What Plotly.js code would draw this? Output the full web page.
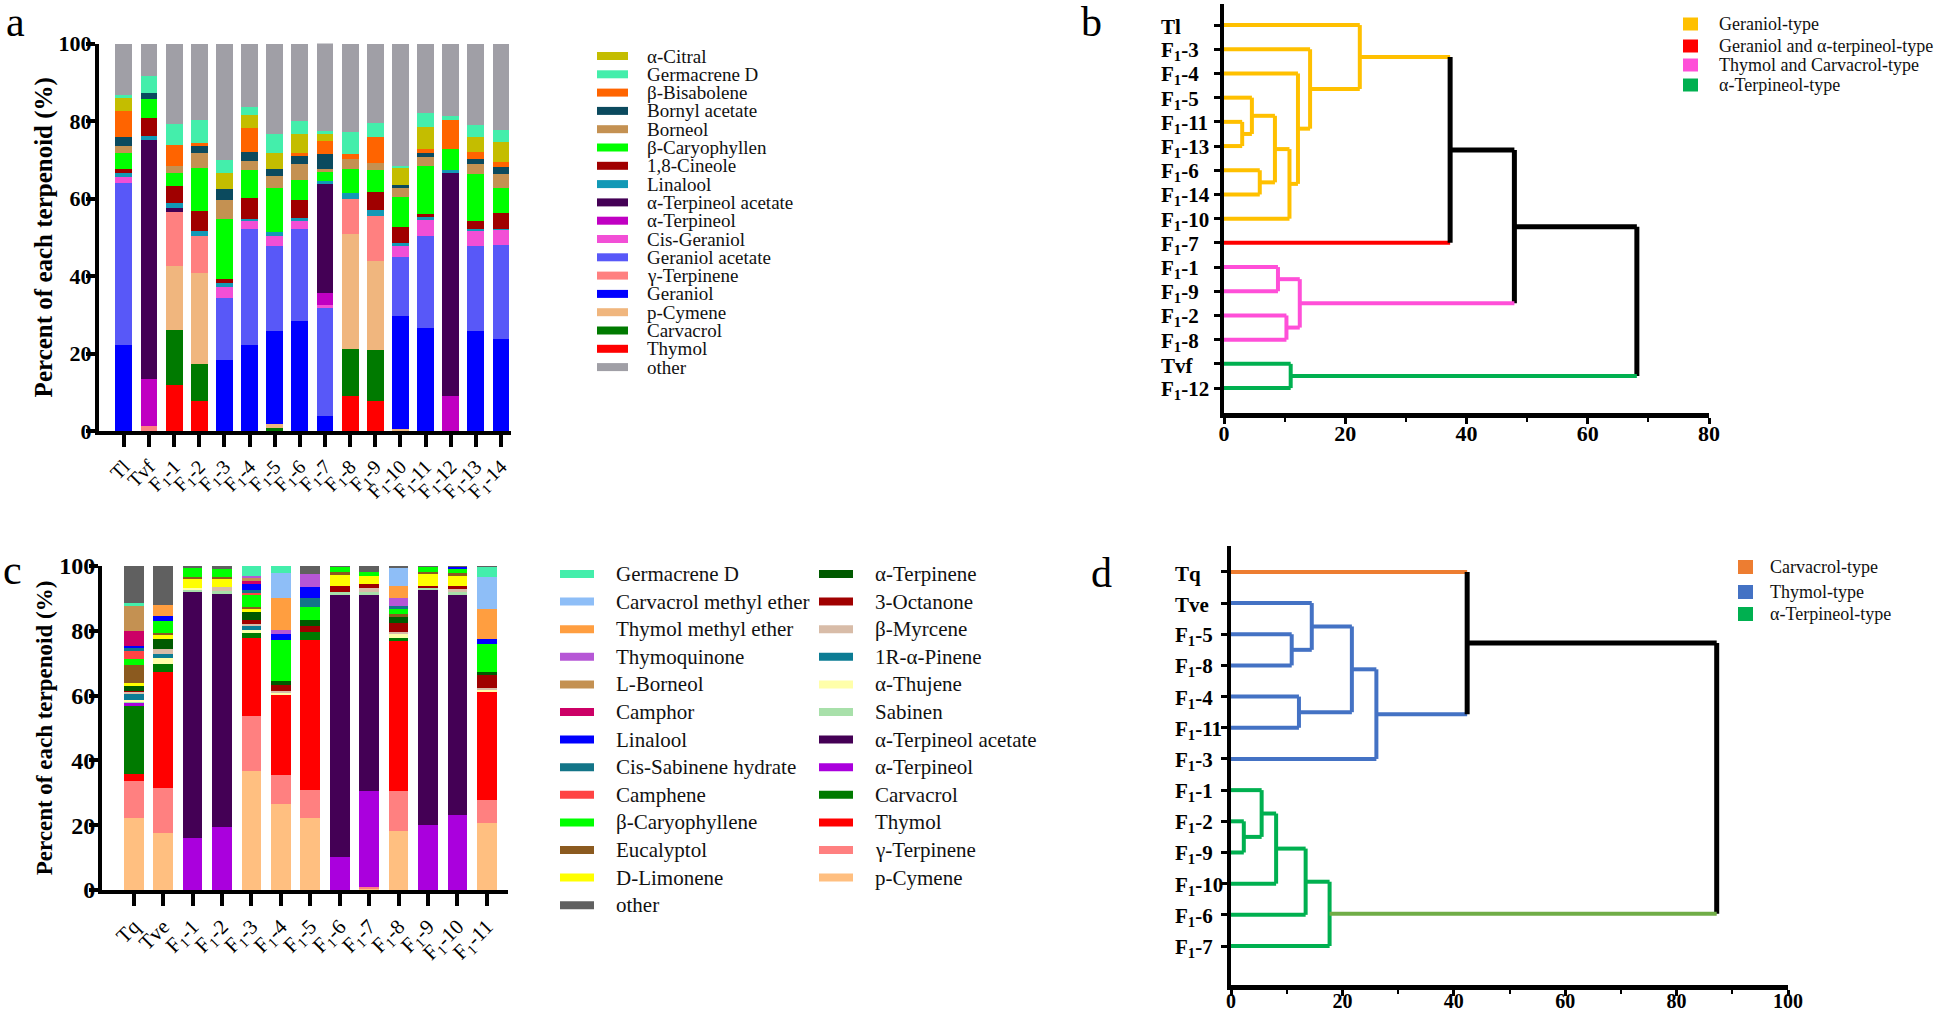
<!DOCTYPE html>
<html lang="en">
<head>
<meta charset="UTF-8" />
<title>Terpenoid profiles and clustering</title>
<script src="https://cdn.plot.ly/plotly-3.0.1.min.js"></script>
<style>
  body { margin: 0; background: #fff; }
  #chart { width: 1944px; height: 1013px; }
</style>
</head>
<body>
<div id="chart"></div>
<script>
// ---------- panel a: terpenoid share (%) per sample ----------
const samplesA = ['Tl','Tvf','F1-1','F1-2','F1-3','F1-4','F1-5','F1-6','F1-7','F1-8','F1-9','F1-10','F1-11','F1-12','F1-13','F1-14'];
const aThymol      = [0, 0, 12.0, 7.7, 0, 0, 0, 0, 0, 9.0, 7.7, 0.3, 0, 0, 0, 0];
const aCarvacrol   = [0, 0, 14.0, 9.7, 0, 0, 0.9, 0, 0, 12.1, 13.2, 0, 0, 0, 0, 0];
const aPCymene     = [0, 0, 16.6, 23.3, 0, 0, 1.0, 0, 0, 29.8, 23.0, 0.3, 0, 0, 0, 0];
const aGeraniol    = [22.2, 0, 0, 0, 18.4, 22.2, 24.0, 28.4, 3.9, 0, 0, 29.1, 26.5, 0, 25.7, 23.7];
const aGTerpinene  = [0, 1.3, 14.0, 9.5, 0, 0, 0, 0, 0, 8.9, 11.6, 0, 0, 0, 0, 0];
const aGerAcetate  = [41.9, 0, 0, 0, 15.8, 29.9, 21.9, 23.7, 27.9, 0, 0, 15.1, 23.7, 0, 22.1, 24.2];
const aCisGeraniol = [1.4, 0, 0, 0, 2.9, 2.0, 2.5, 2.2, 0.7, 0, 0, 3.0, 4.3, 0, 3.7, 4.1];
const aTerpineol   = [0, 12.0, 0, 0, 0, 0, 0, 0, 3.0, 0, 0, 0, 0, 9.0, 0, 0];
const aTerpAcetate = [0, 61.7, 0.9, 0, 0, 0, 0, 0, 28.3, 0, 0, 0, 0, 57.7, 0, 0];
const aLinalool    = [1.0, 1.2, 1.3, 1.4, 1.0, 0.6, 1.0, 0.6, 0.6, 1.6, 1.6, 0.6, 0.7, 0.7, 0.7, 0.2];
const aCineole     = [1.1, 4.6, 4.3, 5.2, 1.0, 5.4, 0, 4.8, 0, 0, 4.5, 4.2, 0.8, 0, 2.0, 4.1];
const aCaryo       = [4.1, 4.9, 3.5, 11.2, 15.6, 7.3, 11.5, 5.1, 2.8, 6.2, 5.8, 7.7, 12.4, 5.4, 12.0, 6.4];
const aBorneol     = [1.9, 0, 1.8, 3.7, 5.0, 2.4, 2.9, 4.2, 0.3, 2.6, 1.7, 2.4, 2.3, 0, 2.7, 3.7];
const aBornylAc    = [2.3, 1.5, 0, 1.9, 2.8, 2.1, 1.9, 1.9, 3.9, 0, 0, 0.7, 1.0, 0, 1.3, 1.8];
const aBisabolene  = [6.6, 0, 5.4, 0.7, 0, 6.3, 0, 0.8, 3.4, 1.4, 6.9, 0, 1.1, 7.5, 1.7, 1.1];
const aCitral      = [3.4, 0, 0, 0, 4.2, 3.4, 4.1, 4.9, 2.0, 0, 0, 4.6, 5.6, 0, 4.1, 5.2];
const aGermacrene  = [0.7, 4.5, 5.3, 6.0, 3.3, 1.9, 5.0, 3.3, 0.5, 5.6, 3.5, 0.4, 3.7, 0.9, 2.9, 3.2];
const aOther       = [13.4, 8.3, 20.9, 19.7, 30.0, 16.5, 23.3, 20.1, 22.8, 22.8, 20.5, 31.6, 17.9, 18.8, 21.1, 22.3];

// stacking order, bottom to top
const stackA = [
  ['Thymol', aThymol], ['Carvacrol', aCarvacrol], ['p-Cymene', aPCymene], ['Geraniol', aGeraniol],
  ['γ-Terpinene', aGTerpinene], ['Geraniol acetate', aGerAcetate], ['Cis-Geraniol', aCisGeraniol],
  ['α-Terpineol', aTerpineol], ['α-Terpineol acetate', aTerpAcetate], ['Linalool', aLinalool],
  ['1,8-Cineole', aCineole], ['β-Caryophyllen', aCaryo], ['Borneol', aBorneol], ['Bornyl acetate', aBornylAc],
  ['β-Bisabolene', aBisabolene], ['α-Citral', aCitral], ['Germacrene D', aGermacrene], ['other', aOther]
];
const legendA = ['α-Citral','Germacrene D','β-Bisabolene','Bornyl acetate','Borneol','β-Caryophyllen','1,8-Cineole',
  'Linalool','α-Terpineol acetate','α-Terpineol','Cis-Geraniol','Geraniol acetate','γ-Terpinene','Geraniol',
  'p-Cymene','Carvacrol','Thymol','other'];

// ---------- panel c: terpenoid share (%) per sample ----------
const samplesC = ['Tq','Tve','F1-1','F1-2','F1-3','F1-4','F1-5','F1-6','F1-7','F1-8','F1-9','F1-10','F1-11'];
const cPCymene     = [22.2, 17.6, 0, 0, 36.7, 26.4, 22.2, 0, 0.4, 18.1, 0, 0, 20.8];
const cGTerpinene  = [11.4, 13.9, 0, 0, 17.1, 9.0, 8.8, 0, 0.4, 12.4, 0, 0, 7.0];
const cThymol      = [2.1, 35.9, 0, 0, 24.1, 24.9, 46.2, 0, 0, 46.5, 0, 0, 33.4];
const cCarvacrol   = [21.2, 2.4, 0, 0, 1.4, 0, 2.4, 0, 0, 0.9, 0, 0, 0];
const cTerpineol   = [1.0, 0, 16.2, 19.6, 0, 0, 0, 10.3, 29.9, 0, 20.0, 23.3, 0];
const cTerpAcetate = [0, 0, 75.8, 71.9, 0, 0, 0, 80.9, 60.5, 0, 72.6, 67.7, 0];
const cSabinen     = [0.3, 0, 0.8, 0.7, 0, 0, 0, 0.8, 0.8, 0, 0.5, 1.0, 0];
const cThujene     = [0.5, 1.9, 0.3, 0, 0.8, 0.7, 0, 0, 0, 1.0, 0, 0, 0.7];
const cPinene      = [1.8, 1.2, 0, 0, 1.4, 0, 0, 0, 0, 0, 0, 0, 0];
const cMyrcene     = [0.8, 1.6, 0, 1.2, 0.7, 0.3, 0, 0, 1.1, 0.7, 0, 0.9, 0.6];
const cOctanone    = [0.2, 0, 0, 0, 1.0, 2.1, 1.9, 1.8, 1.5, 2.9, 0.8, 1.0, 3.9];
const cATerpinene  = [1.4, 3.1, 0, 0, 2.6, 1.2, 1.7, 0, 0, 1.8, 0, 0, 1.0];
const cLimonene    = [0.9, 1.0, 2.8, 2.8, 0.8, 0, 0, 3.4, 2.3, 0, 3.6, 3.3, 0];
const cEucalyptol  = [5.7, 0.7, 0.8, 0.5, 0.8, 0, 0, 1.0, 0, 1.0, 0.7, 0.5, 0];
const cCaryo       = [1.7, 3.6, 2.9, 2.3, 3.6, 12.6, 4.0, 1.5, 1.3, 1.3, 1.6, 1.3, 8.4];
const cCamphene    = [2.8, 0, 0, 0, 0.7, 0, 0, 0, 0, 0, 0, 0, 0];
const cSabHydrate  = [0.6, 0, 0, 0, 0.9, 0, 3.0, 0, 0, 1.0, 0, 0, 0];
const cLinalool    = [0.8, 1.6, 0, 0, 2.0, 1.7, 3.4, 0, 0, 0, 0, 0.8, 1.7];
const cCamphor     = [4.5, 0, 0, 0, 0.8, 0, 0, 0, 0, 0, 0, 0, 0];
const cLBorneol    = [7.9, 0, 0, 0, 0.8, 0, 0, 0, 0, 0, 0, 0, 0];
const cQuinone     = [0, 0, 0, 0, 0.8, 1.2, 3.9, 0, 0, 2.4, 0, 0, 0];
const cThymolME    = [0, 3.4, 0, 0, 0, 9.9, 0, 0, 0, 3.9, 0, 0, 9.1];
const cCarvacrolME = [0, 0, 0, 0, 0, 7.9, 0, 0, 0, 5.7, 0, 0, 10.1];
const cGermacrene  = [0.8, 0, 0, 0, 3.0, 2.1, 0, 0, 0, 0, 0, 0, 3.0];
const cOther       = [11.4, 12.1, 0.4, 1.0, 0, 0, 2.5, 0.3, 1.8, 0.4, 0.2, 0.2, 0.3];

const stackC = [
  ['p-Cymene', cPCymene], ['γ-Terpinene', cGTerpinene], ['Thymol', cThymol], ['Carvacrol', cCarvacrol],
  ['α-Terpineol', cTerpineol], ['α-Terpineol acetate', cTerpAcetate], ['Sabinen', cSabinen],
  ['α-Thujene', cThujene], ['1R-α-Pinene', cPinene], ['β-Myrcene', cMyrcene], ['3-Octanone', cOctanone],
  ['α-Terpinene', cATerpinene], ['D-Limonene', cLimonene], ['Eucalyptol', cEucalyptol],
  ['β-Caryophyllene', cCaryo], ['Camphene', cCamphene], ['Cis-Sabinene hydrate', cSabHydrate],
  ['Linalool', cLinalool], ['Camphor', cCamphor], ['L-Borneol', cLBorneol], ['Thymoquinone', cQuinone],
  ['Thymol methyl ether', cThymolME], ['Carvacrol methyl ether', cCarvacrolME],
  ['Germacrene D', cGermacrene], ['other', cOther]
];
const legendC1 = ['Germacrene D','Carvacrol methyl ether','Thymol methyl ether','Thymoquinone','L-Borneol','Camphor',
  'Linalool','Cis-Sabinene hydrate','Camphene','β-Caryophyllene','Eucalyptol','D-Limonene','other'];
const legendC2 = ['α-Terpinene','3-Octanone','β-Myrcene','1R-α-Pinene','α-Thujene','Sabinen','α-Terpineol acetate',
  'α-Terpineol','Carvacrol','Thymol','γ-Terpinene','p-Cymene'];

// ---------- panel b / d: clustering ----------
const leavesB = ['Tl','F1-3','F1-4','F1-5','F1-11','F1-13','F1-6','F1-14','F1-10','F1-7','F1-1','F1-9','F1-2','F1-8','Tvf','F1-12'];
// [child, child, distance]; ids past the leaves point at earlier merges
const mergesB = [[4,5,3.0],[3,16,4.6],[6,7,5.9],[17,18,8.4],[19,8,10.8],[2,20,12.2],[1,21,14.2],[0,22,22.4],
  [23,9,37.3],[10,11,8.9],[12,13,10.3],[25,26,12.5],[24,27,47.9],[14,15,11.0],[28,29,68.1]];
const leafTypeB  = [0,0,0,0,0,0,0,0,0,1,2,2,2,2,3,3];
const mergeTypeB = [0,0,0,0,0,0,0,0,-1,2,2,2,-1,3,-1];
const typesB = ['Geraniol-type','Geraniol and α-terpineol-type','Thymol and Carvacrol-type','α-Terpineol-type'];

const leavesD = ['Tq','Tve','F1-5','F1-8','F1-4','F1-11','F1-3','F1-1','F1-2','F1-9','F1-10','F1-6','F1-7'];
const mergesD = [[2,3,10.9],[1,13,14.5],[4,5,12.2],[14,15,21.7],[16,6,26.1],[0,17,42.4],
  [8,9,2.3],[7,19,5.5],[20,10,8.1],[21,11,13.4],[22,12,17.7],[18,23,87.2]];
const leafTypeD  = [0,1,1,1,1,1,1,2,2,2,2,2,2];
const mergeTypeD = [1,1,1,1,1,-1,2,2,2,2,2,-1];
const typesD = ['Carvacrol-type','Thymol-type','α-Terpineol-type'];

// ---------- styles ----------
const colorsA = {
  'α-Citral':'#c4bd00','Germacrene D':'#44eeab','β-Bisabolene':'#ff6400','Bornyl acetate':'#0b4a5e',
  'Borneol':'#c49152','β-Caryophyllen':'#00ff00','1,8-Cineole':'#a00000','Linalool':'#1299b6',
  'α-Terpineol acetate':'#440055','α-Terpineol':'#c000c2','Cis-Geraniol':'#f24fd6','Geraniol acetate':'#5858f8',
  'γ-Terpinene':'#ff8080','Geraniol':'#0000ff','p-Cymene':'#f0b67e','Carvacrol':'#007a00','Thymol':'#ff0000',
  'other':'#a09fa6'
};
const colorsC = {
  'Germacrene D':'#44eeab','Carvacrol methyl ether':'#8ebef7','Thymol methyl ether':'#ff9e40','Thymoquinone':'#b657d6',
  'L-Borneol':'#c49152','Camphor':'#cc0066','Linalool':'#0000ff','Cis-Sabinene hydrate':'#137588',
  'Camphene':'#ff4444','β-Caryophyllene':'#00ff00','Eucalyptol':'#8b5a1f','D-Limonene':'#ffff00','other':'#606060',
  'α-Terpinene':'#005a00','3-Octanone':'#a00000','β-Myrcene':'#d8bca8','1R-α-Pinene':'#0c7c94',
  'α-Thujene':'#ffffaa','Sabinen':'#a8e0aa','α-Terpineol acetate':'#440055','α-Terpineol':'#aa00dd',
  'Carvacrol':'#007a00','Thymol':'#ff0000','γ-Terpinene':'#ff8080','p-Cymene':'#ffbf80'
};
const paletteB = ['#ffc000','#ff0000','#ff4fd8','#00b050'];
const paletteD = ['#ed7d31','#4472c4','#00b050'];

const W = 1944, H = 1013;
const px = x => x / W;
const py = y => 1 - y / H;
const serif = 'Liberation Serif, Times New Roman, serif';
const subF = s => s.replace(/^F1-/, 'F<sub>1</sub>-');

const traces = [];
stackA.forEach(([name, vals]) => traces.push({
  type: 'bar', name: name, x: samplesA, y: vals, xaxis: 'x', yaxis: 'y',
  marker: { color: colorsA[name], line: { width: 0 } }
}));
stackC.forEach(([name, vals]) => traces.push({
  type: 'bar', name: name, x: samplesC, y: vals, xaxis: 'x2', yaxis: 'y2',
  marker: { color: colorsC[name], line: { width: 0 } }
}));

// dendrogram: horizontal link per child, vertical bracket per merge
function dendro(nLeaves, merges, leafType, mergeType, palette, upOverride, xa, ya) {
  const pos = [], dist = [], col = [];
  for (let i = 0; i < nLeaves; i++) { pos[i] = i; dist[i] = 0; col[i] = palette[leafType[i]]; }
  const groups = {};
  const seg = (c, x0, y0, x1, y1) => {
    if (!groups[c]) groups[c] = { x: [], y: [] };
    groups[c].x.push(x0, x1, null); groups[c].y.push(y0, y1, null);
  };
  merges.forEach(([a, b, h], k) => {
    const id = nLeaves + k;
    pos[id] = (pos[a] + pos[b]) / 2; dist[id] = h;
    col[id] = mergeType[k] < 0 ? '#000000' : palette[mergeType[k]];
    [a, b].forEach(c => seg(upOverride[c] || col[c], dist[c], pos[c], h, pos[c]));
    seg(col[id], h, pos[a], h, pos[b]);
  });
  return Object.keys(groups).map(c => ({
    type: 'scatter', mode: 'lines', x: groups[c].x, y: groups[c].y, xaxis: xa, yaxis: ya,
    line: { color: c, width: c === '#000000' ? 5 : 4 }, hoverinfo: 'skip', cliponaxis: false
  }));
}
traces.push(...dendro(leavesB.length, mergesB, leafTypeB, mergeTypeB, paletteB, {}, 'x3', 'y3'));
traces.push(...dendro(leavesD.length, mergesD, leafTypeD, mergeTypeD, paletteD, { 23: '#70ad47' }, 'x4', 'y4'));

// hand-made legends (wide flat swatches as in the figure)
const shapes = [], annotations = [];
function legendBlock(names, colorOf, sx, sw, sh, tx, rows, size) {
  names.forEach((n, i) => {
    const y = rows[i];
    shapes.push({ type: 'rect', xref: 'paper', yref: 'paper', x0: px(sx), x1: px(sx + sw),
      y0: py(y + sh / 2), y1: py(y - sh / 2), fillcolor: colorOf(i, n), line: { width: 0 } });
    annotations.push({ xref: 'paper', yref: 'paper', x: px(tx), y: py(y), xanchor: 'left', yanchor: 'middle',
      text: n, showarrow: false, font: { family: serif, size: size, color: '#111' } });
  });
}
const rowsFrom = (y0, dy, n) => Array.from({ length: n }, (_, i) => y0 + i * dy);
legendBlock(legendA, (i, n) => colorsA[n], 597, 31, 8, 645, rowsFrom(56, 18.3, legendA.length), 19);
legendBlock(legendC1, (i, n) => colorsC[n], 560, 34, 8, 614, rowsFrom(574, 27.6, legendC1.length), 21);
legendBlock(legendC2, (i, n) => colorsC[n], 819, 34, 8, 873, rowsFrom(574, 27.6, legendC2.length), 21);
legendBlock(typesB, i => paletteB[i], 1683, 15, 13, 1717, [24, 46, 65, 85], 18);
legendBlock(typesD, i => paletteD[i], 1738, 15, 14, 1768, [567, 592, 614], 18);

// leaf names of the dendrograms sit left-aligned beside the axis
function leafLabels(leaves, xLeft, ya, size) {
  leaves.forEach((n, i) => annotations.push({ xref: 'paper', yref: ya, x: px(xLeft), y: i, yshift: -2,
    xanchor: 'left', yanchor: 'middle', text: '<b>' + subF(n) + '</b>', showarrow: false,
    font: { family: serif, size: size, color: '#000' } }));
}
leafLabels(leavesB, 1159, 'y3', 21);
leafLabels(leavesD, 1173, 'y4', 21);

// panel letters
[['a', 15, 22], ['b', 1091, 22], ['c', 12, 570], ['d', 1101, 573]].forEach(([t, x, y]) =>
  annotations.push({ xref: 'paper', yref: 'paper', x: px(x), y: py(y), xanchor: 'center', yanchor: 'middle',
    text: t, showarrow: false, font: { family: serif, size: 42, color: '#000' } }));

const black = '#000000';
function barX(domain, range, cats, size) {
  return { domain: domain, range: range, type: 'category', tickmode: 'array', tickvals: cats,
    ticktext: cats.map(subF), tickangle: -45, ticks: 'outside', ticklen: 12, tickwidth: 4, tickcolor: black,
    showline: true, linewidth: 4, linecolor: black, showgrid: false, zeroline: false,
    tickfont: { family: serif, size: size, color: black } };
}
function barY(domain, anchor, tickSize, titleSize, labelShift, titleGap) {
  return { domain: domain, range: [0, 100], anchor: anchor, tickvals: [0, 20, 40, 60, 80, 100],
    ticks: 'outside', ticklen: 9, tickwidth: 4, tickcolor: black, showline: true, linewidth: 4,
    linecolor: black, showgrid: false, zeroline: false, ticklabelstandoff: labelShift,
    tickfont: { family: serif, size: tickSize, weight: 'bold', color: black },
    title: { text: 'Percent of each terpenoid (%)', standoff: titleGap,
      font: { family: serif, size: titleSize, weight: 'bold', color: black } } };
}
function dendX(domain, max, anchor, standoff, size) {
  return { domain: domain, range: [0, max], anchor: anchor, dtick: 20, tick0: 0, ticks: 'outside',
    ticklen: 6, tickwidth: 3, tickcolor: black, showline: true, linewidth: 5, linecolor: black,
    showgrid: false, zeroline: false, ticklabelstandoff: standoff,
    minor: { dtick: 10, ticks: 'outside', ticklen: 4, tickwidth: 2, tickcolor: black },
    tickfont: { family: serif, size: size, weight: 'bold', color: black } };
}
function dendY(domain, range, leaves, anchor) {
  return { domain: domain, range: range, anchor: anchor, tickmode: 'array',
    tickvals: leaves.map((_, i) => i), showticklabels: false, ticks: 'outside', ticklen: 6,
    tickwidth: 3, tickcolor: black, showline: true, linewidth: 4, linecolor: black, showgrid: false,
    zeroline: false };
}

const layout = {
  width: W, height: H, margin: { l: 0, r: 0, t: 0, b: 0 },
  paper_bgcolor: '#ffffff', plot_bgcolor: '#ffffff', showlegend: false,
  barmode: 'stack', bargap: 0.33,
  font: { family: serif, color: black },
  xaxis: Object.assign(barX([px(99), px(511)], [-0.99, 15.4], samplesA, 20), { anchor: 'y' }),
  yaxis: barY([py(431), py(43.5)], 'x', 22, 25, -10, 0),
  xaxis2: Object.assign(barX([px(102), px(508)], [-1.08, 12.72], samplesC, 21), { anchor: 'y2' }),
  yaxis2: barY([py(890), py(566)], 'x2', 24, 23, -11, 1),
  xaxis3: dendX([px(1224), px(1709)], 80, 'y3', -9, 22),
  yaxis3: dendY([py(413), py(4)], [16.03, -0.87], leavesB, 'x3'),
  xaxis4: dendX([px(1231), px(1788)], 100, 'y4', -12, 20),
  yaxis4: dendY([py(985), py(546)], [13.25, -0.83], leavesD, 'x4'),
  shapes: shapes,
  annotations: annotations
};

Plotly.newPlot('chart', traces, layout, { displayModeBar: false, responsive: false });
</script>
</body>
</html>
